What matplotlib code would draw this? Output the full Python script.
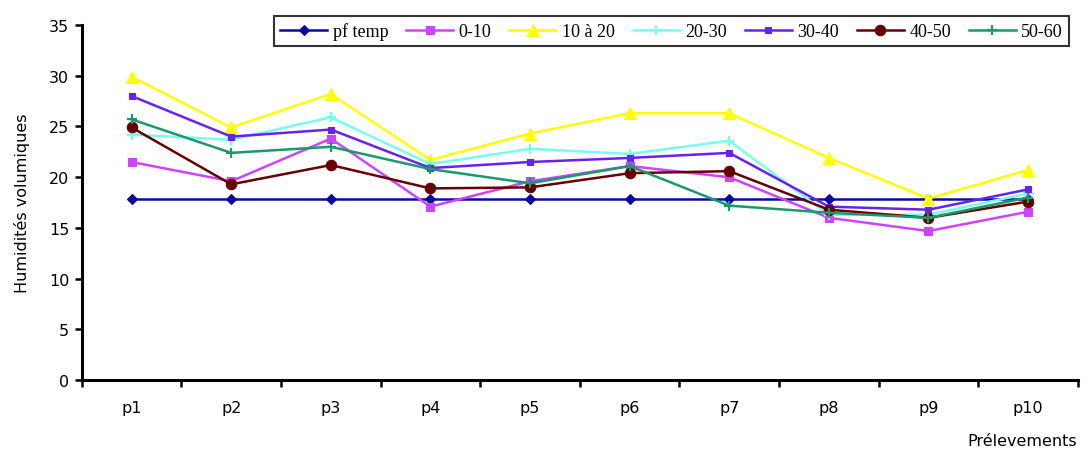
import numpy as np
import matplotlib
matplotlib.use("Agg")
import matplotlib.pyplot as plt

# humidité volumique par prélèvement et par profondeur (cm)
prelevements = ["p1", "p2", "p3", "p4", "p5", "p6", "p7", "p8", "p9", "p10"]
pf_temp = [17.9, 17.9, 17.9, 17.9, 17.9, 17.9, 17.9, 17.9, 17.9, 17.9]
h_0_10 = [21.5, 19.6, 23.8, 17.1, 19.6, 21.1, 20.0, 16.0, 14.7, 16.6]
h_10_20 = [29.9, 24.9, 28.2, 21.7, 24.3, 26.3, 26.3, 21.9, 17.9, 20.7]
h_20_30 = [24.2, 23.7, 25.9, 21.3, 22.8, 22.3, 23.6, 16.3, 16.3, 18.4]
h_30_40 = [28.0, 24.0, 24.7, 20.9, 21.5, 21.9, 22.4, 17.1, 16.8, 18.8]
h_40_50 = [24.9, 19.3, 21.2, 18.9, 19.0, 20.4, 20.6, 16.8, 16.0, 17.6]
h_50_60 = [25.7, 22.4, 23.0, 20.8, 19.4, 21.1, 17.2, 16.5, 16.0, 18.0]

series = [
    ("pf temp", pf_temp, "#0a0a9c", "D", 5),
    ("0-10", h_0_10, "#cc44ff", "s", 6),
    ("10 à 20", h_10_20, "#ffff00", "^", 8),
    ("20-30", h_20_30, "#77ffee", "+", 7),
    ("30-40", h_30_40, "#6622ee", "s", 4),
    ("40-50", h_40_50, "#660000", "o", 7.5),
    ("50-60", h_50_60, "#1a9a6a", "+", 7),
]

fig = plt.figure(figsize=(10.91, 4.56), dpi=100)
ax = fig.add_axes([0.075, 0.164, 0.913, 0.779])

x = np.arange(len(prelevements))
for label, vals, col, mk, ms in series:
    ax.plot(x, vals, color=col, marker=mk, markersize=ms, linewidth=1.8,
            markeredgewidth=1.6 if mk == "+" else 0.8, markeredgecolor=col,
            label=label)

ax.set_xlim(-0.5, len(prelevements) - 0.5)
ax.set_ylim(0, 35)
ax.set_yticks(np.arange(0, 36, 5))
ax.set_xticks(x)
ax.set_xticklabels(prelevements)
ax.set_xticks(np.arange(-0.5, len(prelevements), 1), minor=True)
ax.tick_params(axis="x", which="major", length=0, pad=14, labelsize=11.5)
ax.tick_params(axis="x", which="minor", length=5, width=1.8, direction="out")
ax.tick_params(axis="y", length=5, width=1.8, direction="out", labelsize=11.5, pad=4)

for side in ("top", "right"):
    ax.spines[side].set_visible(False)
for side in ("left", "bottom"):
    ax.spines[side].set_linewidth(2.2)

ax.set_ylabel("Humidités volumiques", fontsize=11.5, labelpad=14)
fig.text(0.987, 0.015, "Prélevements", ha="right", va="bottom", fontsize=11.5)

leg = ax.legend(loc="center", ncol=7,
                frameon=True, fancybox=False, edgecolor="black",
                prop={"family": "Liberation Serif", "size": 13},
                handlelength=2.6, handletextpad=0.3, columnspacing=1.0,
                borderpad=0.35, borderaxespad=0)
leg.set_bbox_to_anchor((0.246, 0.899, 0.739, 0.062), transform=fig.transFigure)
leg.get_frame().set_linewidth(1.5)

fig.savefig("out.png", dpi=100)
